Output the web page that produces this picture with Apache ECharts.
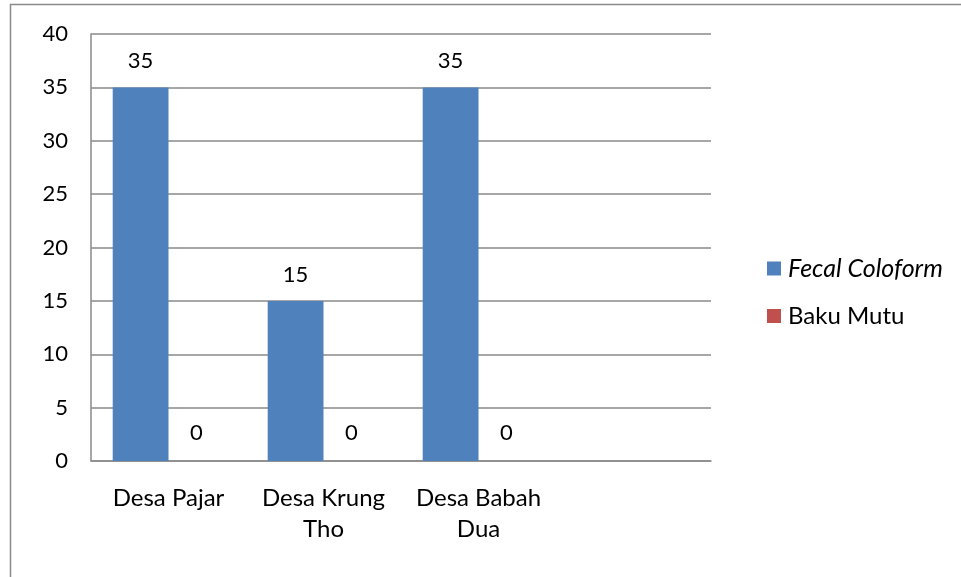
<!DOCTYPE html>
<html>
<head>
<meta charset="utf-8">
<script src="https://cdn.jsdelivr.net/npm/echarts@6/dist/echarts.min.js"></script>
<style>
  html, body { margin: 0; padding: 0; background: #fff; }
  #chart { width: 961px; height: 577px; }
</style>
</head>
<body>
<div id="chart"></div>
<script>
// Villages sampled
var categories = ['Desa Pajar', 'Desa Krung\nTho', 'Desa Babah\nDua'];
// Fecal coliform measurements
var fecalColoform = [35, 15, 35];
// Quality standard (Baku Mutu)
var bakuMutu = [0, 0, 0];
// Value-axis ticks
var yMin = 0, yMax = 40, yStep = 5;

var FONT = 'Lato, "Open Sans", sans-serif';
var gridColor = '#8a8a8a';

var chart = echarts.init(document.getElementById('chart'), null, { renderer: 'canvas' });

chart.setOption({
  backgroundColor: '#ffffff',
  animation: false,
  textStyle: { fontFamily: FONT, color: '#000' },
  graphic: [{
    type: 'rect',
    shape: { x: 10.5, y: 4.5, width: 1000, height: 1000 },
    style: { fill: 'none', stroke: '#8a8a8a', lineWidth: 1.5 },
    z: -1
  }],
  grid: { left: 91, right: 250, top: 34, bottom: 116, containLabel: false },
  legend: {
    orient: 'vertical',
    left: 762,
    top: 251,
    itemWidth: 14,
    itemHeight: 14,
    itemGap: 23,
    icon: 'rect',
    textStyle: { fontFamily: FONT, fontSize: 24, color: '#000', padding: [0, 0, 0, 2] },
    data: [
      { name: 'Fecal Coloform', textStyle: { fontStyle: 'italic', fontSize: 25 } },
      { name: 'Baku Mutu' }
    ]
  },
  xAxis: {
    type: 'category',
    data: categories,
    max: 3,
    axisLine: { lineStyle: { color: gridColor, width: 1.5 } },
    axisTick: { show: false },
    axisLabel: {
      interval: 0,
      margin: 22,
      fontSize: 24,
      lineHeight: 31,
      color: '#000',
      fontFamily: FONT
    }
  },
  yAxis: {
    type: 'value',
    min: yMin,
    max: yMax,
    interval: yStep,
    axisLine: { show: true, lineStyle: { color: gridColor, width: 1.5 } },
    axisTick: { show: false },
    splitLine: { lineStyle: { color: gridColor, width: 1.5 } },
    axisLabel: { margin: 23, fontSize: 22, color: '#000', fontFamily: FONT }
  },
  series: [
    {
      name: 'Fecal Coloform',
      type: 'bar',
      data: fecalColoform,
      barGap: '0%',
      barCategoryGap: '28%',
      itemStyle: { color: '#4F81BD' },
      label: { show: true, position: 'top', distance: 15, fontSize: 22, color: '#000', fontFamily: FONT }
    },
    {
      name: 'Baku Mutu',
      type: 'bar',
      data: bakuMutu,
      barGap: '0%',
      barCategoryGap: '28%',
      itemStyle: { color: '#C0504D' },
      label: { show: true, position: 'top', distance: 17, fontSize: 22, color: '#000', fontFamily: FONT }
    }
  ]
});
</script>
</body>
</html>
